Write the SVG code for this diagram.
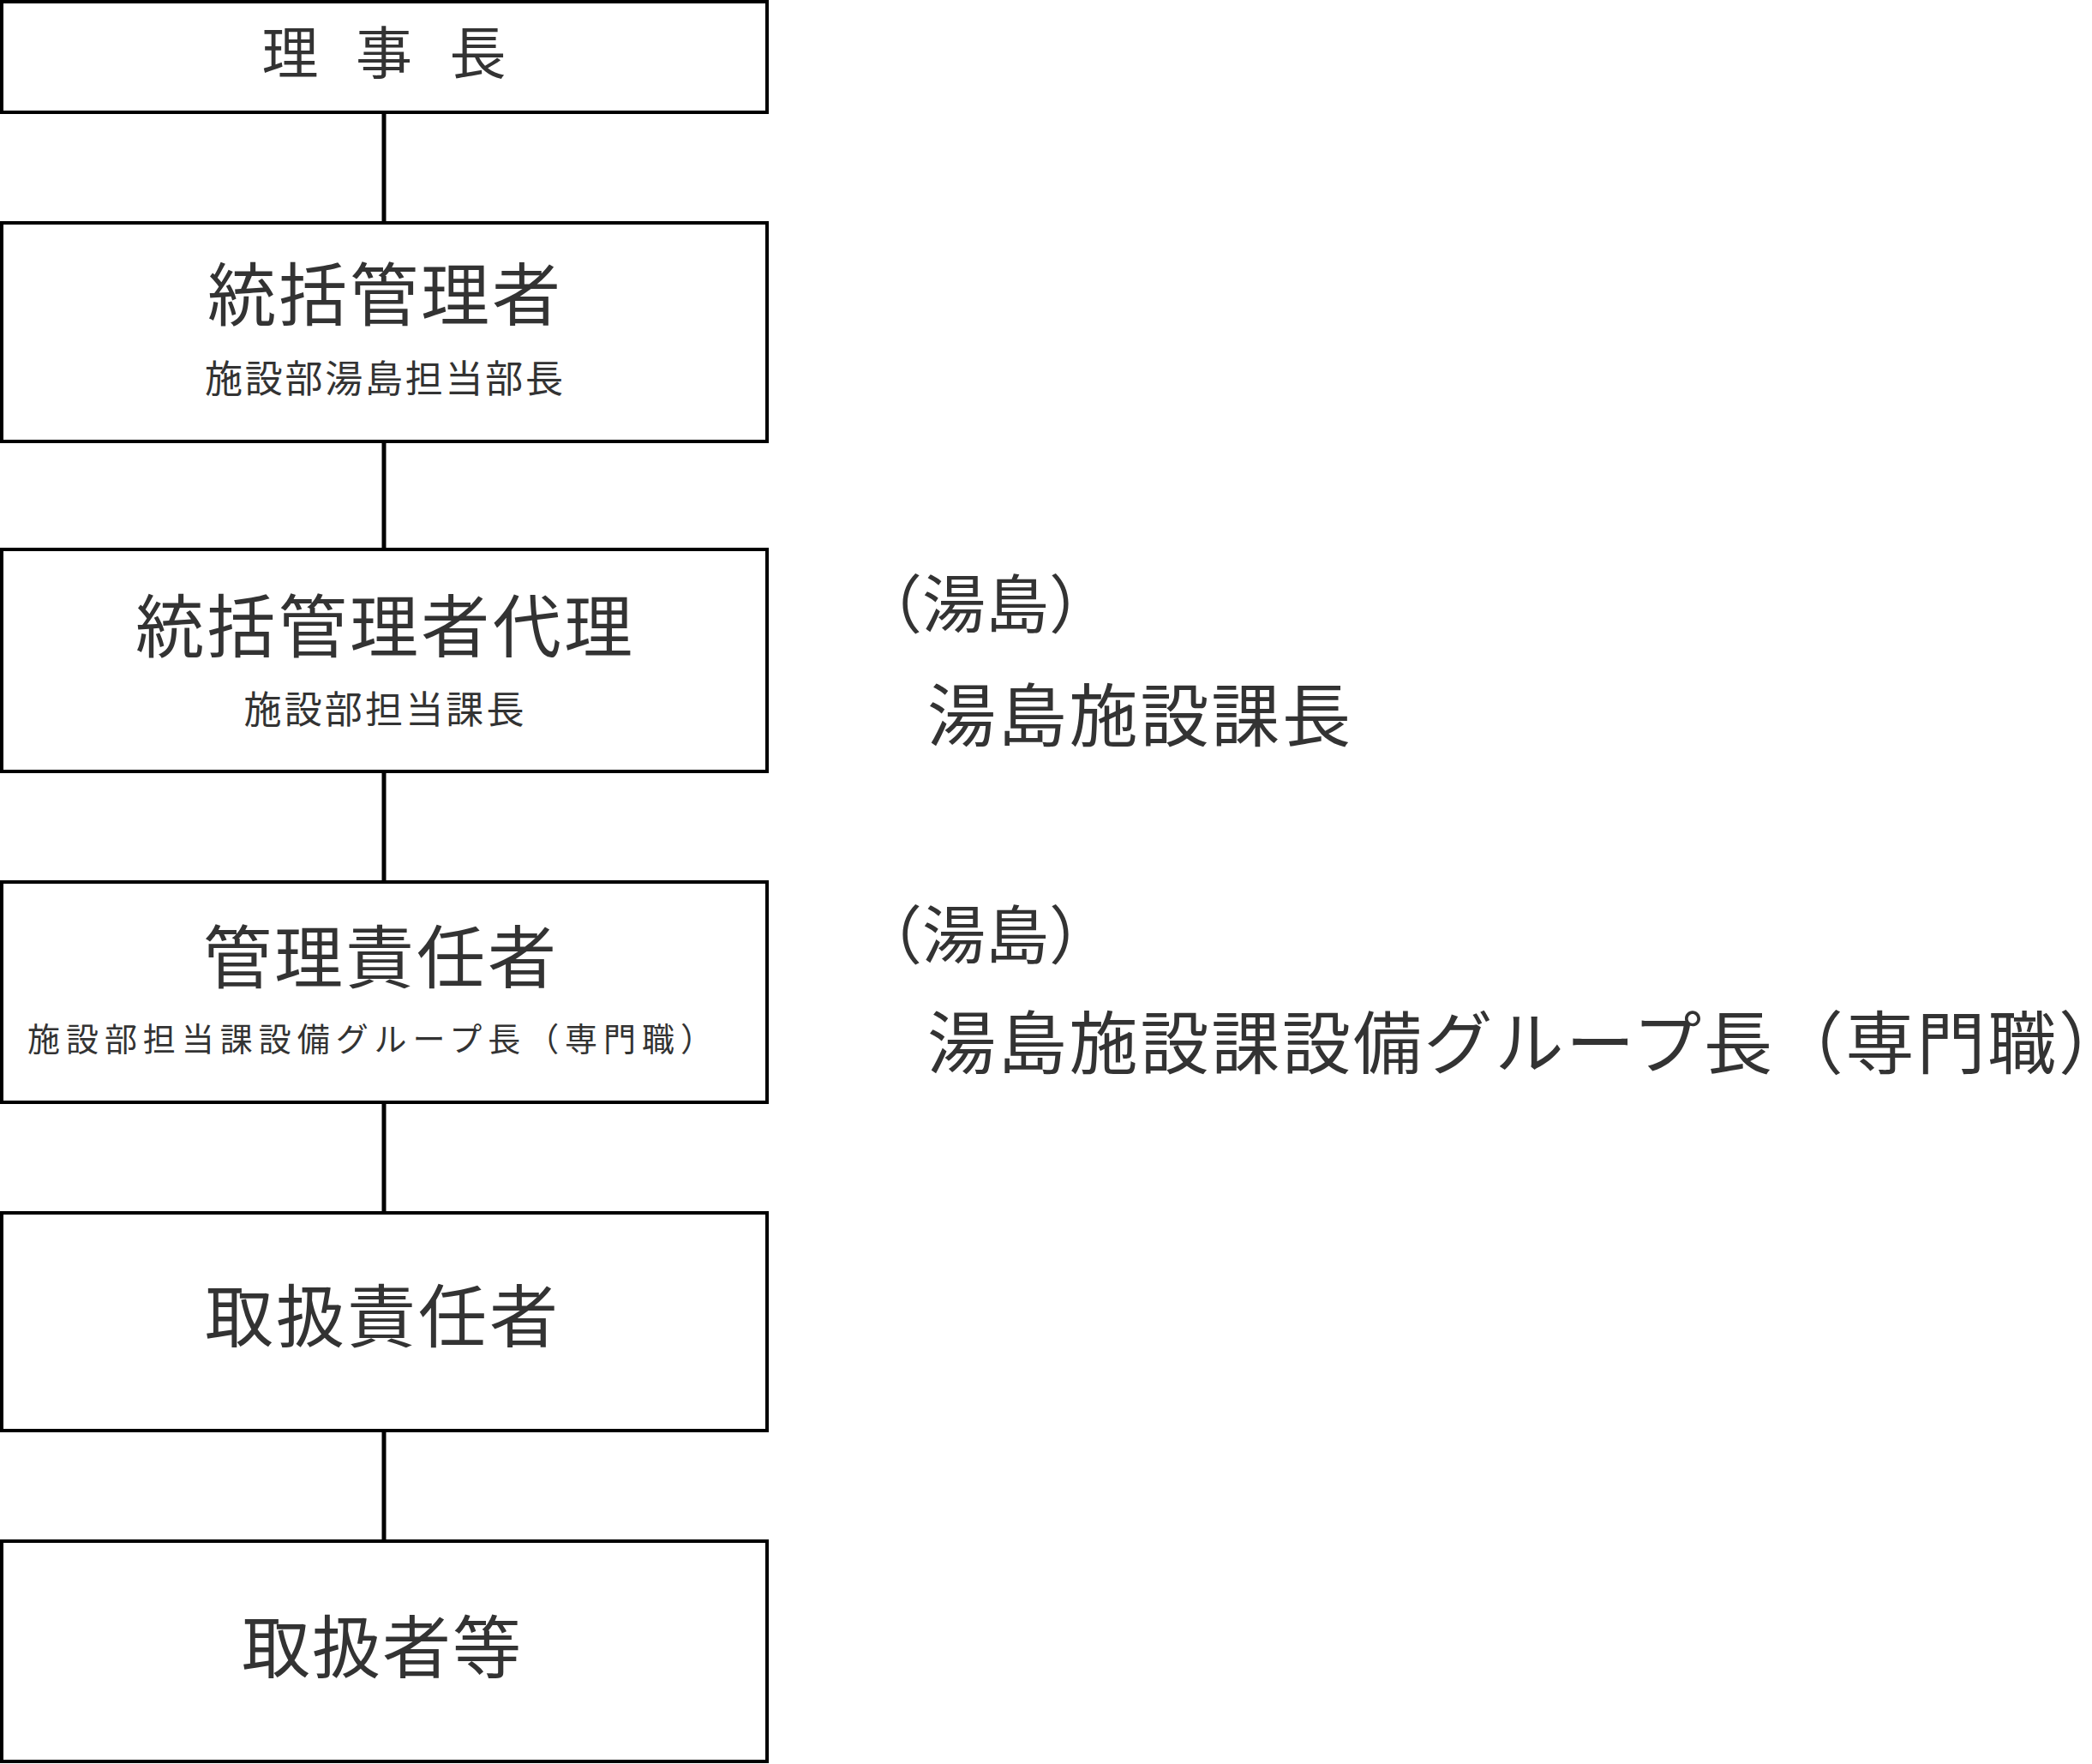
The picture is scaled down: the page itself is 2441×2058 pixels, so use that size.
<svg xmlns="http://www.w3.org/2000/svg" width="2441" height="2058" viewBox="0 0 2441 2058">
<style>
.b{fill:#fff;stroke:#000;stroke-width:4}
.t{font-family:"Liberation Sans","Noto Sans CJK JP",sans-serif;fill:#333;text-anchor:middle}
.r{font-family:"Liberation Sans","Noto Sans CJK JP",sans-serif;fill:#333}
.c{stroke:#000;stroke-width:5}
</style>
<rect width="2441" height="2058" fill="#fff"/>
<g id="connectors">
<line class="c" x1="448" y1="131" x2="448" y2="260"/>
<line class="c" x1="448" y1="515" x2="448" y2="641"/>
<line class="c" x1="448" y1="900" x2="448" y2="1029"/>
<line class="c" x1="448" y1="1286" x2="448" y2="1415"/>
<line class="c" x1="448" y1="1669" x2="448" y2="1798"/>
</g>
<g id="n1"><rect class="b" x="2" y="2" width="893" height="129"/><text class="t" x="448" y="86" font-size="66" textLength="285" lengthAdjust="spacing">理事長</text></g>
<g id="n2"><rect class="b" x="2" y="260" width="893" height="255"/><text class="t" x="448" y="373" font-size="80" textLength="412" lengthAdjust="spacing">統括管理者</text><text class="t" x="448" y="458" font-size="44" textLength="418" lengthAdjust="spacing">施設部湯島担当部長</text></g>
<g id="n3"><rect class="b" x="2" y="641" width="893" height="259"/><text class="t" x="448" y="760" font-size="80" textLength="580" lengthAdjust="spacing">統括管理者代理</text><text class="t" x="448" y="844" font-size="44" textLength="327" lengthAdjust="spacing">施設部担当課長</text></g>
<g id="n4"><rect class="b" x="2" y="1029" width="893" height="257"/><text class="t" x="443" y="1146" font-size="80" textLength="412" lengthAdjust="spacing">管理責任者</text><text class="t" x="432" y="1226" font-size="38" textLength="800" lengthAdjust="spacing">施設部担当課設備グループ長（専門職）</text></g>
<g id="n5"><rect class="b" x="2" y="1415" width="893" height="254"/><text class="t" x="445" y="1565" font-size="80" textLength="412" lengthAdjust="spacing">取扱責任者</text></g>
<g id="n6"><rect class="b" x="2" y="1798" width="893" height="257"/><text class="t" x="445" y="1951" font-size="80" textLength="326" lengthAdjust="spacing">取扱者等</text></g>
<g id="labels">
<text class="r" x="1002" y="732" font-size="74">（湯島）</text>
<text class="r" x="1082" y="864" font-size="80" textLength="494" lengthAdjust="spacing">湯島施設課長</text>
<text class="r" x="1002" y="1118" font-size="74">（湯島）</text>
<text class="r" x="1082" y="1246" font-size="80" textLength="1400" lengthAdjust="spacing">湯島施設課設備グループ長（専門職）</text>
</g>
</svg>
